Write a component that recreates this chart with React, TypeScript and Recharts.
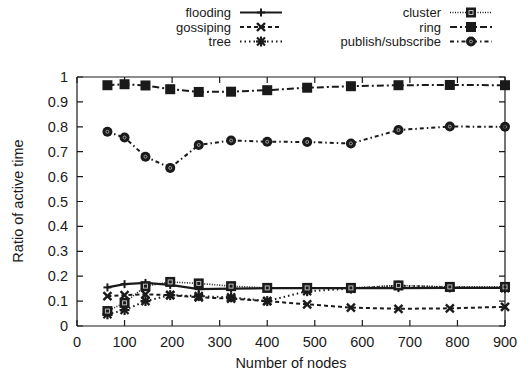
import { LineChart, Line, XAxis, YAxis } from "recharts";

const nodes = [64, 100, 144, 196, 256, 324, 400, 484, 576, 676, 784, 900];
const flooding = [0.155, 0.168, 0.173, 0.165, 0.148, 0.15, 0.152, 0.152, 0.152, 0.152, 0.153, 0.153];
const gossiping = [0.12, 0.124, 0.127, 0.124, 0.115, 0.11, 0.1, 0.087, 0.074, 0.069, 0.071, 0.077];
const tree = [0.047, 0.064, 0.1, 0.124, 0.12, 0.115, 0.1, 0.14, 0.15, 0.162, 0.155, 0.152];
const cluster = [0.06, 0.093, 0.16, 0.177, 0.171, 0.16, 0.153, 0.153, 0.153, 0.163, 0.157, 0.157];
const ring = [0.967, 0.971, 0.966, 0.951, 0.94, 0.941, 0.947, 0.957, 0.963, 0.967, 0.968, 0.967];
const pubsub = [0.78, 0.757, 0.68, 0.635, 0.727, 0.745, 0.74, 0.739, 0.733, 0.787, 0.801, 0.8];

const xTicks = [0, 100, 200, 300, 400, 500, 600, 700, 800, 900];
const yTicks = [0, 0.1, 0.2, 0.3, 0.4, 0.5, 0.6, 0.7, 0.8, 0.9, 1];

const data = nodes.map((n, i) => ({
  n,
  flooding: flooding[i],
  gossiping: gossiping[i],
  tree: tree[i],
  cluster: cluster[i],
  ring: ring[i],
  pubsub: pubsub[i],
}));

const INK = "#1a1a1a";
const FONT = '"Liberation Sans", Arial, sans-serif';
const FS = 14.5;

// plot box, fixed by the chart margins below
const W = 518;
const H = 376;
const M = { top: 77, right: 13, left: 17, bottom: 0 };
const Y_AXIS_W = 60;
const X_AXIS_H = 50;
const PL = M.left + Y_AXIS_W;
const PR = W - M.right;
const PT = M.top;
const PB = H - M.bottom - X_AXIS_H;
const sx = (v: number) => PL + (v / 900) * (PR - PL);
const sy = (v: number) => PB - v * (PB - PT);
const TICK = 6;

type Kind = "plus" | "cross" | "star" | "boxdot" | "box" | "circle";

const Marker = ({ kind, cx, cy }: { kind: Kind; cx: number; cy: number }) => {
  if (kind === "plus")
    return (
      <g stroke={INK} strokeWidth={2}>
        <line x1={cx - 4} y1={cy} x2={cx + 4} y2={cy} />
        <line x1={cx} y1={cy - 4} x2={cx} y2={cy + 4} />
      </g>
    );
  if (kind === "cross")
    return (
      <g stroke={INK} strokeWidth={2.4}>
        <line x1={cx - 4} y1={cy - 4} x2={cx + 4} y2={cy + 4} />
        <line x1={cx - 4} y1={cy + 4} x2={cx + 4} y2={cy - 4} />
      </g>
    );
  if (kind === "star")
    return (
      <g stroke={INK} strokeWidth={2.2}>
        <line x1={cx - 4} y1={cy - 4} x2={cx + 4} y2={cy + 4} />
        <line x1={cx - 4} y1={cy + 4} x2={cx + 4} y2={cy - 4} />
        <line x1={cx - 5} y1={cy} x2={cx + 5} y2={cy} />
        <line x1={cx} y1={cy - 5} x2={cx} y2={cy + 5} />
      </g>
    );
  if (kind === "boxdot")
    return (
      <g>
        <rect x={cx - 5} y={cy - 5} width={10} height={10} fill={INK} />
        <rect x={cx - 2} y={cy - 2} width={4} height={4} fill="none" stroke="#bbb" strokeWidth={1} />
      </g>
    );
  if (kind === "box") return <rect x={cx - 5} y={cy - 5} width={10} height={10} fill={INK} />;
  return (
    <g>
      <circle cx={cx} cy={cy} r={5} fill={INK} />
      <circle cx={cx} cy={cy} r={1.5} fill="none" stroke="#bbb" strokeWidth={0.8} />
    </g>
  );
};

const series: { key: string; label: string; dash?: string; kind: Kind; width: number }[] = [
  { key: "flooding", label: "flooding", kind: "plus", width: 2.2 },
  { key: "gossiping", label: "gossiping", dash: "4 3", kind: "cross", width: 2 },
  { key: "tree", label: "tree", dash: "1.5 3", kind: "star", width: 2 },
  { key: "cluster", label: "cluster", dash: "1 1.5", kind: "boxdot", width: 1.6 },
  { key: "ring", label: "ring", dash: "7 3 2 3", kind: "box", width: 2 },
  { key: "pubsub", label: "publish/subscribe", dash: "4 3 1.5 3", kind: "circle", width: 2 },
];

const dotFor = (kind: Kind) => (p: any) =>
  <Marker key={`${kind}-${p.index}`} kind={kind} cx={p.cx} cy={p.cy} />;

const BottomLabel = (p: any) => (
  <text x={p.x} y={p.y + 16} textAnchor="middle" dominantBaseline="central" fontSize={FS} fill={INK} fontFamily={FONT}>
    {p.payload.value}
  </text>
);
const LeftLabel = (p: any) => (
  <text x={p.x - 9} y={p.y} textAnchor="end" dominantBaseline="central" fontSize={FS} fill={INK} fontFamily={FONT}>
    {p.payload.value}
  </text>
);

const LegendRow = ({ s, x, y }: { s: (typeof series)[number]; x: number; y: number }) => (
  <g>
    <text x={x} y={y} textAnchor="end" dominantBaseline="central" fontSize={13} fill={INK} fontFamily={FONT}>
      {s.label}
    </text>
    <line x1={x + 9} y1={y} x2={x + 51} y2={y} stroke={INK} strokeWidth={s.width} strokeDasharray={s.dash} />
    <Marker kind={s.kind} cx={x + 30} cy={y} />
  </g>
);

// gnuplot-style border: top/right edges and inward ticks on all four sides
const Frame = () => (
  <g stroke={INK} strokeWidth={1.2} fill="none">
    <path d={`M${PL},${PT}H${PR}V${PB}`} />
    {xTicks.map((v) => (
      <path key={`xb${v}`} d={`M${sx(v)},${PB}v${-TICK}M${sx(v)},${PT}v${TICK}`} />
    ))}
    {yTicks.map((v) => (
      <path key={`yl${v}`} d={`M${PL},${sy(v)}h${TICK}M${PR},${sy(v)}h${-TICK}`} />
    ))}
  </g>
);

export default function App() {
  return (
    <div style={{ position: "absolute", left: 0, top: 0, width: W, height: H, background: "#fff" }}>
      <LineChart width={W} height={H} data={data} margin={M}>
        <XAxis
          dataKey="n"
          type="number"
          domain={[0, 900]}
          ticks={xTicks}
          height={X_AXIS_H}
          tickSize={0}
          tickMargin={0}
          tickLine={false}
          stroke={INK}
          strokeWidth={1.2}
          tick={BottomLabel}
        />
        <YAxis
          type="number"
          domain={[0, 1]}
          ticks={yTicks}
          width={Y_AXIS_W}
          tickSize={0}
          tickMargin={0}
          tickLine={false}
          stroke={INK}
          strokeWidth={1.2}
          tick={LeftLabel}
        />
        {series.map((s) => (
          <Line
            key={s.key}
            dataKey={s.key}
            stroke={INK}
            strokeWidth={s.width}
            strokeDasharray={s.dash}
            dot={dotFor(s.kind)}
            activeDot={false}
            isAnimationActive={false}
          />
        ))}
      </LineChart>
      <svg width={W} height={H} style={{ position: "absolute", left: 0, top: 0, pointerEvents: "none" }}>
        <Frame />
        <LegendRow s={series[0]} x={231} y={12.5} />
        <LegendRow s={series[1]} x={231} y={27} />
        <LegendRow s={series[2]} x={231} y={41.5} />
        <LegendRow s={series[3]} x={441} y={12.5} />
        <LegendRow s={series[4]} x={441} y={27} />
        <LegendRow s={series[5]} x={441} y={41.5} />
        <text x={291} y={363} textAnchor="middle" dominantBaseline="central" fontSize={FS} fill={INK} fontFamily={FONT}>
          Number of nodes
        </text>
        <text
          x={18}
          y={201}
          transform="rotate(-90 18 201)"
          textAnchor="middle"
          dominantBaseline="central"
          fontSize={FS}
          fill={INK}
          fontFamily={FONT}
        >
          Ratio of active time
        </text>
      </svg>
    </div>
  );
}
